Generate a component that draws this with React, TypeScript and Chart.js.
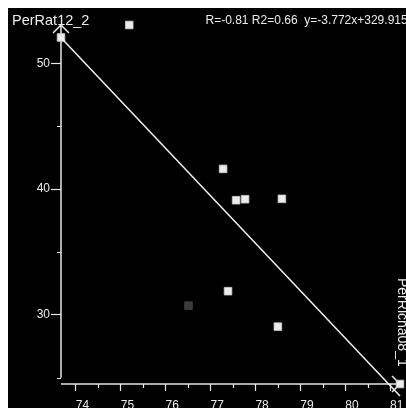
import { useEffect, useRef } from "react";
import { Chart, registerables } from "chart.js";

Chart.register(...registerables);

const X_TITLE = "PerRicha08_1";
const Y_TITLE = "PerRat12_2";
const STATS_TEXT = "R=-0.81 R2=0.66  y=-3.772x+329.915";

const POINT_X = [73.67, 75.19, 77.28, 77.57, 77.77, 78.59, 77.39, 78.5, 81.22];
const POINT_Y = [52.06, 53.05, 41.61, 39.12, 39.2, 39.23, 31.89, 29.07, 24.51];
const DIM_X = [76.51];
const DIM_Y = [30.74];

const SLOPE = -3.772;
const INTERCEPT = 329.915;

const X_MIN = 73.67;
const X_MAX = 81.22;
const Y_MIN = 24.51;
const Y_MAX = 53.05;

const X_TICKS = [74, 75, 76, 77, 78, 79, 80, 81];
const X_MINOR = [74.5, 75.5, 76.5, 77.5, 78.5, 79.5, 80.5];
const Y_TICKS = [30, 40, 50];
const Y_MINOR = [25, 35, 45];

const FONT = "'Liberation Sans', Arial, sans-serif";
const AXIS_COLOR = "#e8e8e8";
const TEXT_COLOR = "#ececec";

const axesPlugin = {
  id: "arrowAxes",
  beforeDatasetsDraw(chart: any) {
    const { ctx, chartArea: a, scales } = chart;
    const x = scales.x;
    const y = scales.y;
    ctx.save();
    ctx.strokeStyle = AXIS_COLOR;
    ctx.lineWidth = 1.5;
    ctx.lineCap = "butt";
    const yBottom = y.getPixelForValue(Y_MINOR[0]);
    ctx.beginPath();
    ctx.moveTo(a.left, a.top);
    ctx.lineTo(a.left, yBottom);
    ctx.moveTo(a.left - 8, a.top + 8);
    ctx.lineTo(a.left, a.top);
    ctx.lineTo(a.left + 8, a.top + 8);
    ctx.moveTo(a.left, a.bottom);
    ctx.lineTo(a.right, a.bottom);
    ctx.moveTo(a.right - 8, a.bottom - 8);
    ctx.lineTo(a.right, a.bottom);
    ctx.lineTo(a.right - 8, a.bottom + 8);
    ctx.stroke();

    ctx.lineWidth = 1.2;
    ctx.beginPath();
    for (const v of X_MINOR) {
      const px = Math.round(x.getPixelForValue(v)) + 0.5;
      ctx.moveTo(px, a.bottom);
      ctx.lineTo(px, a.bottom + 4);
    }
    for (const v of Y_MINOR) {
      const py = Math.round(y.getPixelForValue(v)) + 0.5;
      ctx.moveTo(a.left, py);
      ctx.lineTo(a.left - 4, py);
    }
    ctx.stroke();
    ctx.restore();
  },
  afterDraw(chart: any) {
    const { ctx, chartArea: a } = chart;
    ctx.save();
    ctx.fillStyle = TEXT_COLOR;
    ctx.textBaseline = "alphabetic";
    ctx.textAlign = "left";
    ctx.font = `14.5px ${FONT}`;
    ctx.fillText(Y_TITLE, 4, 17);
    ctx.font = `12px ${FONT}`;
    ctx.fillText(STATS_TEXT, 197.5, 15.5);
    ctx.font = `14px ${FONT}`;
    ctx.translate(a.right - 2.5, 270);
    ctx.rotate(Math.PI / 2);
    ctx.fillText(X_TITLE, 0, 0);
    ctx.restore();
  },
};

export default function App() {
  const ref = useRef<HTMLCanvasElement | null>(null);

  useEffect(() => {
    const canvas = ref.current;
    if (!canvas) return;
    const fitX = [X_MIN, X_MAX];
    const chart = new Chart(canvas, {
      type: "scatter",
      data: {
        datasets: [
          {
            type: "line",
            label: "fit",
            data: fitX.map((v) => ({ x: v, y: SLOPE * v + INTERCEPT })),
            borderColor: "#f2f2f2",
            borderWidth: 1.5,
            pointRadius: 0,
            fill: false,
            clip: false,
          } as any,
          {
            label: "points",
            data: POINT_X.map((v, i) => ({ x: v, y: POINT_Y[i] })),
            pointStyle: "rect",
            pointRadius: 5.4,
            backgroundColor: "#ececec",
            borderColor: "#c8c8c8",
            borderWidth: 0.8,
            clip: false,
          } as any,
          {
            label: "excluded",
            data: DIM_X.map((v, i) => ({ x: v, y: DIM_Y[i] })),
            pointStyle: "rect",
            pointRadius: 5.4,
            backgroundColor: "#3a3a3a",
            borderColor: "#454545",
            borderWidth: 0.8,
            clip: false,
          } as any,
        ],
      },
      options: {
        animation: false,
        responsive: false,
        devicePixelRatio: 1,
        layout: { padding: { top: 17, right: 38, left: 0, bottom: 0 } },
        plugins: {
          legend: { display: false },
          tooltip: { enabled: false },
          title: { display: false },
        },
        scales: {
          x: {
            type: "linear",
            min: X_MIN,
            max: X_MAX,
            afterBuildTicks: (s: any) => {
              s.ticks = X_TICKS.map((value) => ({ value }));
            },
            afterFit: (s: any) => {
              s.height = 54;
            },
            grid: {
              display: true,
              drawOnChartArea: false,
              drawTicks: true,
              tickLength: 7,
              tickColor: AXIS_COLOR,
              tickWidth: 1.2,
            },
            border: { display: false },
            ticks: {
              color: TEXT_COLOR,
              font: { family: FONT, size: 12 },
              align: "start",
              padding: 7,
              maxRotation: 0,
              autoSkip: false,
            },
          },
          y: {
            type: "linear",
            min: Y_MIN,
            max: Y_MAX,
            afterBuildTicks: (s: any) => {
              s.ticks = Y_TICKS.map((value) => ({ value }));
            },
            afterFit: (s: any) => {
              s.width = 53;
            },
            grid: {
              display: true,
              drawOnChartArea: false,
              drawTicks: true,
              tickLength: 10,
              tickColor: AXIS_COLOR,
              tickWidth: 1.2,
            },
            border: { display: false },
            ticks: {
              color: TEXT_COLOR,
              font: { family: FONT, size: 12 },
              padding: 1,
              autoSkip: false,
            },
          },
        },
      },
      plugins: [axesPlugin],
    });
    return () => chart.destroy();
  }, []);

  return (
    <div
      style={{
        position: "fixed",
        left: 8,
        top: 8,
        width: 398,
        height: 400,
        overflow: "hidden",
        background: "#000",
      }}
    >
      <canvas
        ref={ref}
        width={430}
        height={430}
        style={{ width: 430, height: 430, display: "block", background: "#000" }}
      />
    </div>
  );
}
